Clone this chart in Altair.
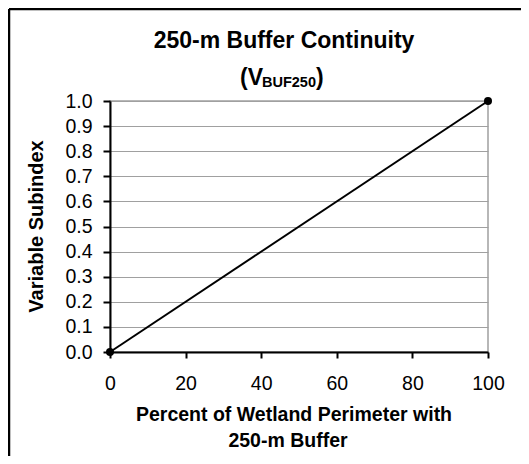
import altair as alt
import pandas as pd

# ---- data ----
x_vals = [0, 100]
y_vals = [0.0, 1.0]
y_ticks = [0.0, 0.1, 0.2, 0.3, 0.4, 0.5, 0.6, 0.7, 0.8, 0.9, 1.0]
x_ticks = [0, 20, 40, 60, 80, 100]
title_text = ["250-m Buffer Continuity"]
sub_open = ["(V"]
sub_sub = ["BUF250"]
sub_close = [")"]
x_title_1 = ["Percent of Wetland Perimeter with"]
x_title_2 = ["250-m Buffer"]
y_title = ["Variable Subindex"]

W, H = 378, 251
PAD = {"left": 102, "top": 93, "right": 33, "bottom": 104}
FONT = "Liberation Sans"

df = pd.DataFrame({"pct": x_vals, "v": y_vals})
xs = alt.Scale(domain=[0, 100], nice=False)
ys = alt.Scale(domain=[0, 1], nice=False)

x_axis = alt.Axis(values=x_ticks, title=None, grid=False, domainColor="black",
                  domainWidth=2, tickColor="black", tickWidth=2, tickSize=6,
                  labelFontSize=19.5, labelPadding=16, labelColor="black",
                  labelFont=FONT, labelFlush=False, labelOverlap=False)
y_axis = alt.Axis(values=y_ticks, format=".1f", title=None, grid=True,
                  gridColor="#a0a0a0", gridWidth=1, domainColor="black",
                  domainWidth=2, tickColor="black", tickWidth=2, tickSize=7,
                  labelFontSize=19.5, labelPadding=11, labelColor="black",
                  labelFont=FONT, labelFlush=False, labelOverlap=False)

base = alt.Chart(df).encode(
    x=alt.X("pct:Q", scale=xs, axis=x_axis),
    y=alt.Y("v:Q", scale=ys, axis=y_axis),
)
line = base.mark_line(color="black", strokeWidth=2, clip=False)
points = base.mark_circle(color="black", size=64, opacity=1, clip=False)


def text_layer(lines, x, y, size, align="center", angle=None, baseline="alphabetic"):
    kw = dict(font=FONT, fontSize=size, fontWeight="bold", align=align,
              baseline=baseline, color="black")
    if angle is not None:
        kw["angle"] = angle
    return alt.Chart(pd.DataFrame({"t": lines})).mark_text(**kw).encode(
        x=alt.value(x), y=alt.value(y), text="t:N")


title = text_layer(title_text, 174, -53, 23)
s1 = text_layer(sub_open, 153, -16, 23, align="right")
s2 = text_layer(sub_sub, 179, -14, 14.5)
s3 = text_layer(sub_close, 206, -16, 23, align="left")
xt1 = text_layer(x_title_1, 184, 320, 19.5)
xt2 = text_layer(x_title_2, 178, 346, 19.5)
yt = text_layer(y_title, -67, H / 2, 20, angle=270)

one = pd.DataFrame({"d": [0]})
border_left = alt.Chart(one).mark_rule(color="black", strokeWidth=2.5).encode(
    x=alt.value(-101), y=alt.value(-92), y2=alt.value(H + PAD["bottom"]))
border_top = alt.Chart(one).mark_rule(color="black", strokeWidth=2.5).encode(
    x=alt.value(-101), x2=alt.value(W + PAD["right"]), y=alt.value(-92))

chart = alt.layer(
    line, points, title, s1, s2, s3, xt1, xt2, yt, border_left, border_top
).properties(
    width=W, height=H, padding=PAD,
    autosize=alt.AutoSizeParams(type="none"),
    background="white",
).configure_view(stroke="#a0a0a0", strokeWidth=1.5)

chart.save("out.html", embed_options={"renderer": "svg", "actions": False})
